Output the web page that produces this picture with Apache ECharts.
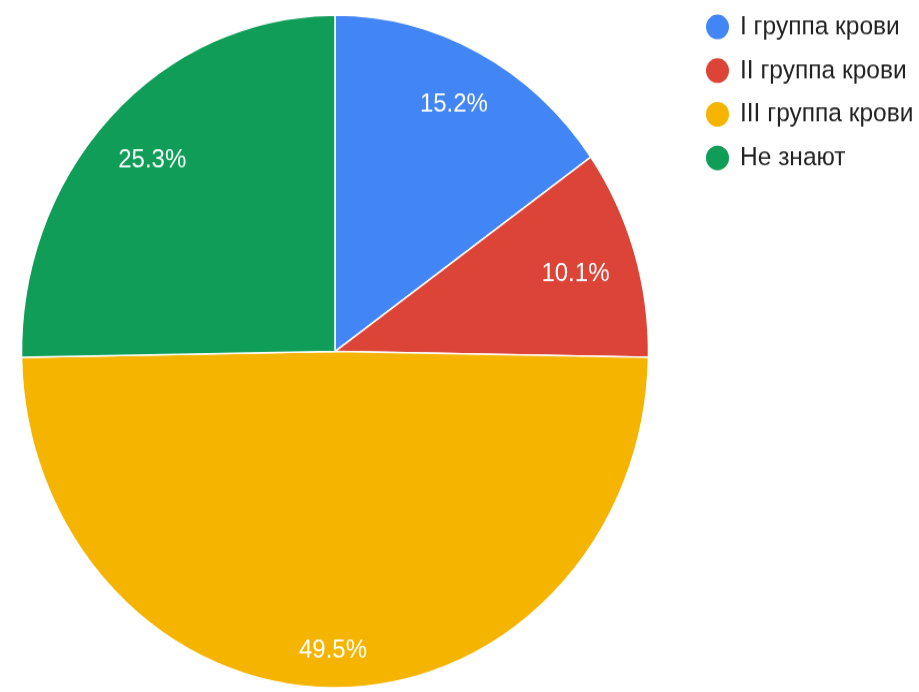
<!DOCTYPE html>
<html>
<head>
<meta charset="utf-8">
<script src="https://cdn.jsdelivr.net/npm/echarts@6/dist/echarts.min.js"></script>
<style>
html,body{margin:0;padding:0;background:#fff;width:919px;height:692px;}
#wrap{width:919px;height:692px;position:relative;}
#chart{position:absolute;left:0;top:0;width:919px;height:645px;transform:scaleY(1.0729);transform-origin:0 0;}
</style>
</head>
<body>
<div id="wrap"><div id="chart"></div></div>
<script>
var categories = ['I группа крови', 'II группа крови', 'III группа крови', 'Не знают'];
var values = [15.2, 10.1, 49.5, 25.3];
var colors = ['#4285F4', '#DB4437', '#F4B400', '#0F9D58'];

var chart = echarts.init(document.getElementById('chart'), null, {renderer: 'canvas'});

var labelOffsets = [[0, 0], [-7, 4.5], [-2, 20], [2, 3.5]];

var mainData = categories.map(function (name, i) {
  return {name: name, value: values[i], itemStyle: {color: colors[i]}};
});
var labelData = categories.map(function (name, i) {
  return {name: name, value: values[i], label: {offset: labelOffsets[i]}};
});

chart.setOption({
  animation: false,
  color: colors,
  legend: {
    orient: 'vertical',
    left: 699,
    top: 6.6,
    icon: 'circle',
    itemWidth: 27,
    itemHeight: 25,
    itemGap: 13.7,
    selectedMode: false,
    data: categories,
    textStyle: {
      fontFamily: 'Liberation Sans, Arial, sans-serif',
      fontSize: 24.5,
      color: '#222',
      padding: [0, 0, 0, 4]
    }
  },
  series: [
    {
      type: 'pie',
      center: [335, 327.6],
      radius: [0, 313.5],
      startAngle: 90,
      clockwise: true,
      silent: true,
      data: mainData,
      itemStyle: {borderColor: '#fff', borderWidth: 1.5},
      label: {show: false},
      labelLine: {show: false},
      emphasis: {disabled: true}
    },
    {
      type: 'pie',
      center: [335, 327.6],
      radius: [240, 272],
      startAngle: 90,
      clockwise: true,
      silent: true,
      data: labelData,
      itemStyle: {color: 'rgba(0,0,0,0)', borderWidth: 0},
      label: {
        show: true,
        position: 'inside',
        formatter: '{c}%',
        color: '#fff',
        fontFamily: 'Liberation Sans, Arial, sans-serif',
        fontSize: 24,
        textBorderWidth: 0
      },
      labelLine: {show: false},
      emphasis: {disabled: true}
    }
  ]
});
</script>
</body>
</html>
